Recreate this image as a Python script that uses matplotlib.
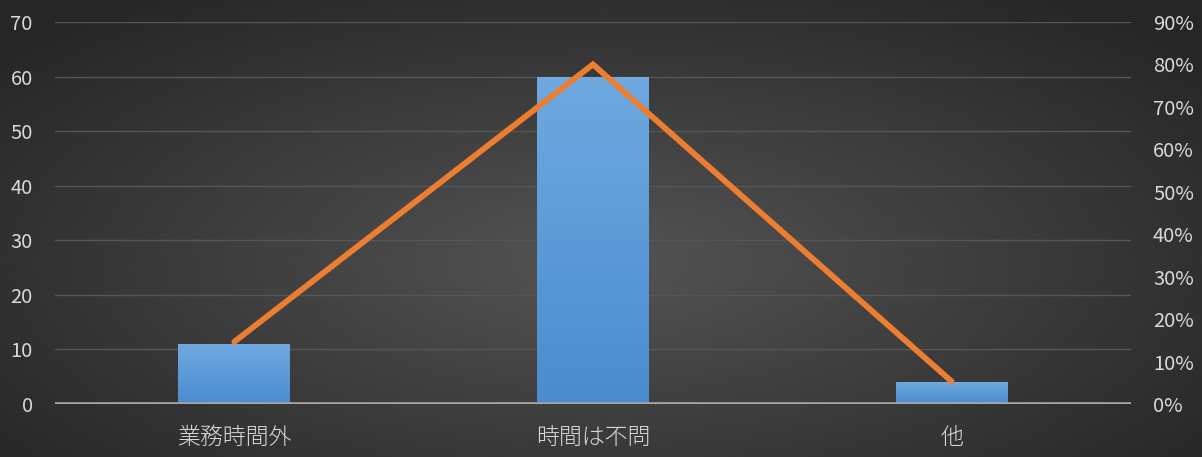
import matplotlib
matplotlib.use("Agg")
import matplotlib.pyplot as plt
import numpy as np
from matplotlib.ticker import FuncFormatter

plt.rcParams["font.family"] = ["Noto Sans CJK JP", "DejaVu Sans"]

categories = ["業務時間外", "時間は不問", "他"]
counts = [11, 60, 4]
shares = [c / sum(counts) for c in counts]   # 14.7%, 80%, 5.3%

TEXT = "#d9d9d9"
GRID = "#565656"
ORANGE = "#ed7d31"

fig = plt.figure(figsize=(12.02, 4.57), dpi=100)

# radial background: lighter in the middle, dark at the edges
bg = fig.add_axes([0, 0, 1, 1], zorder=-10)
yy, xx = np.mgrid[-1:1:300j, -1:1:600j]
r = np.clip(np.sqrt(xx ** 2 + ((yy - 0.15) * 0.9) ** 2), 0, 1.3) / 1.3
bg.imshow(0.33 - 0.18 * r, cmap="gray", vmin=0, vmax=1, aspect="auto",
          extent=[0, 1, 0, 1], interpolation="bicubic")
bg.axis("off")

ax = fig.add_axes([0.0458, 0.116, 0.895, 0.836])
ax.set_facecolor("none")
x = np.arange(len(categories))
bars = ax.bar(x, counts, width=0.312, color="#5b9bd5", zorder=2)

# vertical gradient fill clipped to each bar
grad = np.linspace(0, 1, 100).reshape(-1, 1)
blue = matplotlib.colors.LinearSegmentedColormap.from_list(
    "bluegrad", ["#4a8ccf", "#6fa9e0"])
for b in bars:
    im = ax.imshow(grad, cmap=blue, aspect="auto", origin="lower", zorder=2.1,
                   extent=[b.get_x(), b.get_x() + b.get_width(), 0, b.get_height()])
    im.set_clip_path(b)

ax.set_xlim(-0.5, 2.5)
ax.set_ylim(0, 70)
ax.set_yticks(range(0, 71, 10))
ax.grid(axis="y", color=GRID, linewidth=1)
ax.set_axisbelow(True)
for s in ax.spines.values():
    s.set_visible(False)
ax.axhline(0, color="#a6a6a6", linewidth=2.6, zorder=3)
ax.set_xticks(x, categories, fontweight="light")
ax.tick_params(axis="x", length=0, pad=15, labelsize=16.5, labelcolor=TEXT)
ax.tick_params(axis="y", length=0, pad=16, labelsize=14.5, labelcolor=TEXT)

ax2 = ax.twinx()
ax2.set_ylim(0, 0.9)
ax2.set_yticks(np.arange(0, 0.91, 0.1))
ax2.yaxis.set_major_formatter(FuncFormatter(lambda v, _: f"{v * 100:.0f}%"))
ax2.tick_params(axis="y", length=0, pad=16, labelsize=14.5, labelcolor=TEXT)
for s in ax2.spines.values():
    s.set_visible(False)
ax2.plot(x, shares, color=ORANGE, linewidth=4.2, solid_capstyle="round",
         solid_joinstyle="miter", zorder=4)

fig.savefig("out.png", dpi=100)
